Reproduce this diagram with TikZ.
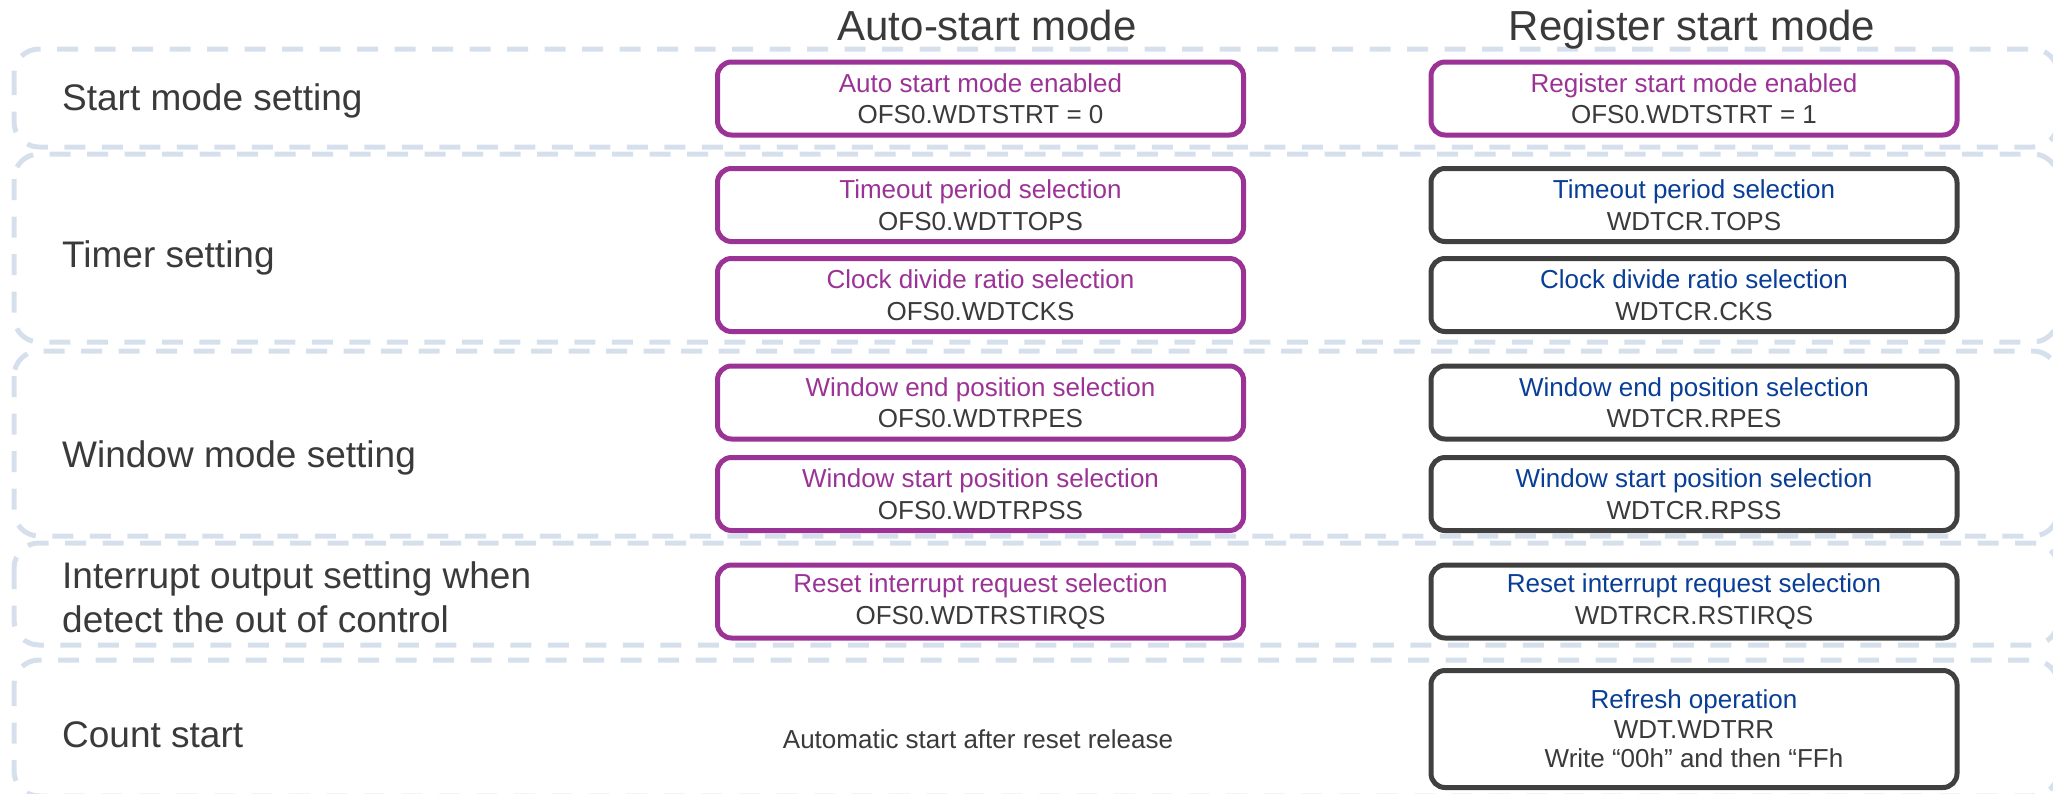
\documentclass[tikz,border=0pt]{standalone}
\usepackage{fontspec}
\setmainfont{Liberation Sans}
\definecolor{grp}{RGB}{214,224,237}
\definecolor{vio}{RGB}{155,51,150}
\definecolor{ink}{RGB}{64,64,64}
\definecolor{txt}{RGB}{58,58,58}
\definecolor{navy}{RGB}{8,62,150}

\begin{document}
\begin{tikzpicture}[x=1pt,y=-1pt,
  group/.style={draw=grp, line width=5pt, rounded corners=25pt,
    dash pattern=on 21pt off 16.5pt},
  regbox/.style={draw, line width=5pt, rounded corners=14pt,
    minimum width=526pt, minimum height=73pt, align=center, inner sep=0pt,
    text=txt, font=\fontsize{26}{31.5}\selectfont},
  autobox/.style={regbox, draw=vio},
  manbox/.style={regbox, draw=ink},
  lbl/.style={anchor=base west, inner sep=0pt, text=txt, align=left,
    font=\fontsize{37}{44}\selectfont},
  coltitle/.style={anchor=base, inner sep=0pt, text=txt,
    font=\fontsize{42}{50}\selectfont},
  note/.style={anchor=base, inner sep=0pt, text=txt,
    font=\fontsize{26}{31.5}\selectfont}
]
\useasboundingbox (0,0) rectangle (2053,793);
\clip (0,0) rectangle (2053,793);

% setting groups (dashed frames)
\draw[group] (14,49)  rectangle (2058,147);
\draw[group] (14,154) rectangle (2058,342);
\draw[group] (14,351) rectangle (2058,536);
\draw[group] (14,543) rectangle (2058,645);
\draw[group] (14,660) rectangle (2058,796);

% column titles
\node[coltitle] (tauto) at (987,40)  {Auto-start mode};
\node[coltitle] (treg)  at (1692,40) {Register start mode};

% row labels (base anchor = baseline of the last line)
\node[lbl] (lstart) at (62,110) {Start mode setting};
\node[lbl] (ltimer) at (62,267) {Timer setting};
\node[lbl] (lwin)   at (62,467) {Window mode setting};
\node[lbl] (lint)   at (62,632) {Interrupt output setting when\\detect the out of control};
\node[lbl] (lcount) at (62,747) {Count start};

% auto-start mode column (option-setting memory)
\node[autobox] (a1) at (980.5,98.5) {\textcolor{vio}{Auto start mode enabled}\\OFS0.WDTSTRT = 0};
\node[autobox] (a2) at (980.5,205)  {\textcolor{vio}{Timeout period selection}\\OFS0.WDTTOPS};
\node[autobox] (a3) at (980.5,295)  {\textcolor{vio}{Clock divide ratio selection}\\OFS0.WDTCKS};
\node[autobox] (a4) at (980.5,402.5){\textcolor{vio}{Window end position selection}\\OFS0.WDTRPES};
\node[autobox] (a5) at (980.5,494)  {\textcolor{vio}{Window start position selection}\\OFS0.WDTRPSS};
\node[autobox] (a6) at (980.5,601.5){\textcolor{vio}{Reset interrupt request selection}\\OFS0.WDTRSTIRQS};
\node[note] (a7) at (978,748) {Automatic start after reset release};

% register start mode column
\node[autobox] (r1) at (1694,98.5) {\textcolor{vio}{Register start mode enabled}\\OFS0.WDTSTRT = 1};
\node[manbox] (r2) at (1694,205)  {\textcolor{navy}{Timeout period selection}\\WDTCR.TOPS};
\node[manbox] (r3) at (1694,295)  {\textcolor{navy}{Clock divide ratio selection}\\WDTCR.CKS};
\node[manbox] (r4) at (1694,402.5){\textcolor{navy}{Window end position selection}\\WDTCR.RPES};
\node[manbox] (r5) at (1694,494)  {\textcolor{navy}{Window start position selection}\\WDTCR.RPSS};
\node[manbox] (r6) at (1694,601.5){\textcolor{navy}{Reset interrupt request selection}\\WDTRCR.RSTIRQS};
\node[manbox, minimum height=117pt, font=\fontsize{26}{29.5}\selectfont] (r7) at (1694,729)
  {\textcolor{navy}{Refresh operation}\\WDT.WDTRR\\Write “00h” and then “FFh};
\end{tikzpicture}
\end{document}
